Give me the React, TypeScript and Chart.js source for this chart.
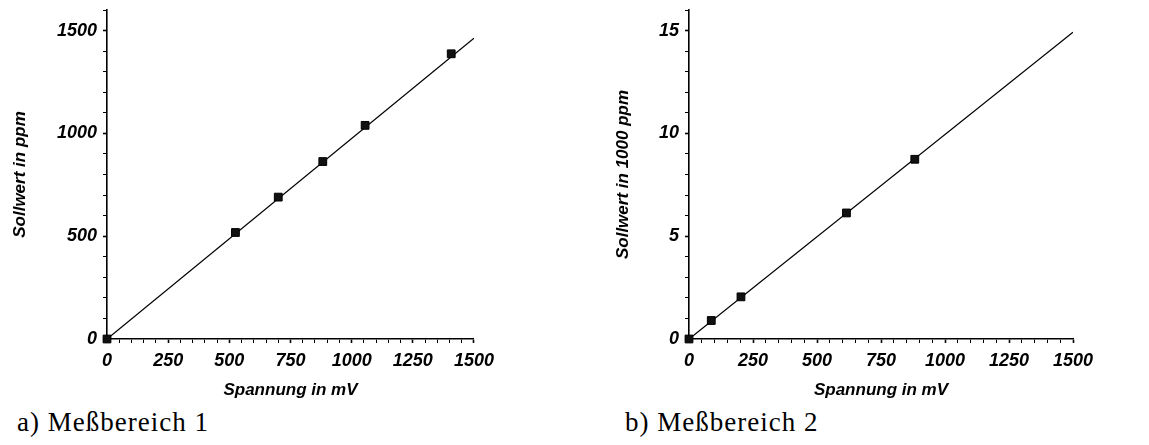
import React, { useEffect, useRef } from 'react';
import { Chart, registerables } from 'chart.js';
Chart.register(...registerables);

// ---- data ----
const leftVoltage = [0, 525, 700, 882, 1055, 1407];
const leftSetpoint = [0, 518, 690, 863, 1039, 1387];
const leftFitX = [0, 1500];
const leftFitY = [0, 1463];

const rightVoltage = [0, 87, 203, 615, 882];
const rightSetpoint = [0, 0.9, 2.05, 6.13, 8.74];
const rightFitX = [0, 1500];
const rightFitY = [0, 14.92];

const xAxisTitle = 'Spannung in mV';
const leftYTitle = 'Sollwert in ppm';
const rightYTitle = 'Sollwert in 1000 ppm';
const captions = ['a) Meßbereich 1', 'b) Meßbereich 2'];

const xMajorStep = 250;
const xMinorStep = 50;
const leftYMajor = 500;
const leftYMinor = 100;
const leftYMax = 1600;
const rightYMajor = 5;
const rightYMinor = 1;
const rightYMax = 16;

const tickFont = { family: 'Liberation Sans', size: 18, style: 'italic' as const, weight: 'bold' as const };
const titleFont = { family: 'Liberation Sans', size: 17, style: 'italic' as const, weight: 'bold' as const };

type Params = {
  xs: number[]; ys: number[]; fx: number[]; fy: number[];
  yTitle: string; yMax: number; yMajor: number; yMinor: number;
  yWidth: number; yTitlePad: number; padRight: number;
};

function makeConfig(p: Params): any {
  const pts = p.xs.map((x, i) => ({ x, y: p.ys[i] }));
  const fit = p.fx.map((x, i) => ({ x, y: p.fy[i] }));
  return {
    type: 'scatter',
    data: {
      datasets: [
        {
          data: fit, showLine: true, pointRadius: 0, borderColor: '#000', borderWidth: 1.3,
          order: 2,
        },
        {
          data: pts, showLine: false, pointStyle: 'rect', pointRadius: 5.5,
          backgroundColor: '#111', borderColor: '#000', borderWidth: 1, clip: false, order: 1,
        },
      ],
    },
    options: {
      responsive: false,
      animation: false,
      devicePixelRatio: 1,
      layout: { padding: { top: 10, right: p.padRight, left: 0, bottom: 0 } },
      plugins: { legend: { display: false }, tooltip: { enabled: false } },
      scales: {
        x: {
          type: 'linear', min: 0, max: 1500,
          border: { display: true, color: '#000', width: 1.6 },
          grid: {
            drawOnChartArea: false, drawTicks: true, tickLength: 4, tickColor: '#000',
            tickWidth: (ctx: any) => (ctx.tick && ctx.tick.value % xMajorStep === 0 ? 1.6 : 1),
          },
          ticks: {
            stepSize: xMinorStep, autoSkip: false, maxRotation: 0, color: '#000', padding: 7,
            font: tickFont,
            callback: (v: any) => (v % xMajorStep === 0 ? String(v) : ''),
          },
          title: { display: true, text: xAxisTitle, color: '#000', font: titleFont, padding: { top: 4, bottom: 3 } },
          afterFit: (s: any) => { s.height = 65; },
        },
        y: {
          type: 'linear', min: 0, max: p.yMax,
          border: { display: true, color: '#000', width: 1.6 },
          grid: {
            drawOnChartArea: false, drawTicks: true, tickLength: 4, tickColor: '#000',
            tickWidth: (ctx: any) => (ctx.tick && ctx.tick.value % p.yMajor === 0 ? 1.6 : 1),
          },
          ticks: {
            stepSize: p.yMinor, autoSkip: false, color: '#000', padding: 6,
            font: tickFont,
            callback: (v: any) => (v % p.yMajor === 0 ? String(v) : ''),
          },
          title: { display: true, text: p.yTitle, color: '#000', font: titleFont, padding: { top: p.yTitlePad, bottom: 0 } },
          afterFit: (s: any) => { s.width = p.yWidth; s.paddingTop = 0; s.paddingBottom = 0; },
        },
      },
    },
  };
}

function ChartBox(props: { left: number; width: number; height: number; params: Params }) {
  const ref = useRef<HTMLCanvasElement>(null);
  useEffect(() => {
    if (!ref.current) return;
    const c = new Chart(ref.current, makeConfig(props.params));
    return () => c.destroy();
  }, []);
  return (
    <canvas
      ref={ref}
      width={props.width}
      height={props.height}
      style={{ position: 'absolute', left: props.left, top: 0, width: props.width, height: props.height }}
    />
  );
}

const captionStyle: React.CSSProperties = {
  position: 'absolute', top: 409, fontFamily: '"Liberation Serif", "Times New Roman", serif',
  fontSize: 27, lineHeight: '27px', letterSpacing: 1, color: '#000', whiteSpace: 'nowrap',
};

export default function App() {
  return (
    <div style={{ position: 'fixed', left: 0, top: 0, width: 1149, height: 445, background: '#fff', overflow: 'hidden' }}>
      <ChartBox
        left={0} width={501} height={404}
        params={{ xs: leftVoltage, ys: leftSetpoint, fx: leftFitX, fy: leftFitY, yTitle: leftYTitle,
          yMax: leftYMax, yMajor: leftYMajor, yMinor: leftYMinor, yWidth: 107, yTitlePad: 10, padRight: 22 }}
      />
      <ChartBox
        left={600} width={549} height={404}
        params={{ xs: rightVoltage, ys: rightSetpoint, fx: rightFitX, fy: rightFitY, yTitle: rightYTitle,
          yMax: rightYMax, yMajor: rightYMajor, yMinor: rightYMinor, yWidth: 89, yTitlePad: 13, padRight: 76 }}
      />
      <div style={{ ...captionStyle, left: 17 }}>{captions[0]}</div>
      <div style={{ ...captionStyle, left: 625 }}>{captions[1]}</div>
    </div>
  );
}
